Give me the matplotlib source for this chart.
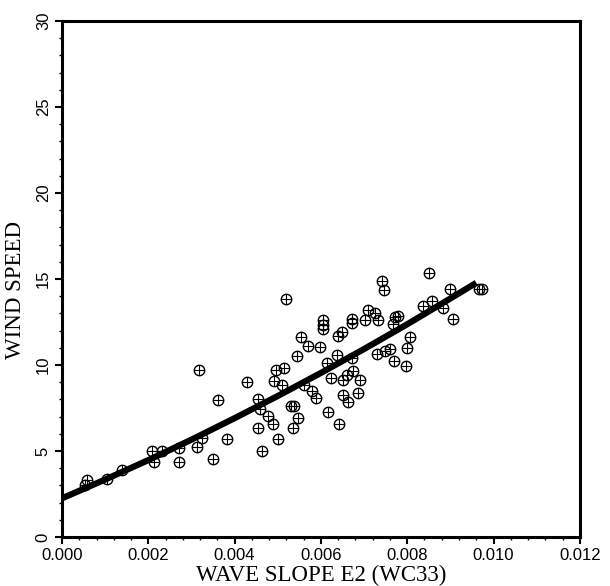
import numpy as np
import matplotlib.pyplot as plt
from matplotlib.ticker import MultipleLocator

# wave slope (E2, WC33) vs wind speed
slope = [0.00053, 0.00058, 0.00104, 0.00139, 0.00208, 0.00213, 0.00232, 0.00271,
         0.00271, 0.00313, 0.00324, 0.00317, 0.00350, 0.00361, 0.00382, 0.00429,
         0.00454, 0.00459, 0.00454, 0.00463, 0.00477, 0.00489, 0.00496, 0.00514,
         0.00491, 0.00510, 0.00500, 0.00519, 0.00530, 0.00537, 0.00547, 0.00535,
         0.00544, 0.00554, 0.00561, 0.00570, 0.00579, 0.00588, 0.00598, 0.00605,
         0.00605, 0.00605, 0.00614, 0.00616, 0.00623, 0.00637, 0.00642, 0.00639,
         0.00649, 0.00651, 0.00660, 0.00674, 0.00672, 0.00651, 0.00663, 0.00686,
         0.00690, 0.00672, 0.00672, 0.00702, 0.00709, 0.00725, 0.00732, 0.00730,
         0.00741, 0.00746, 0.00748, 0.00760, 0.00769, 0.00771, 0.00778, 0.00767,
         0.00806, 0.00799, 0.00797, 0.00836, 0.00857, 0.00850, 0.00883, 0.00899,
         0.00906, 0.00966, 0.00973]
wind = [3.02, 3.32, 3.38, 3.90, 5.00, 4.36, 5.00, 5.18,
        4.36, 5.23, 5.76, 9.71, 4.53, 7.96, 5.70, 9.02,
        8.02, 7.44, 6.33, 5.00, 7.04, 6.57, 9.71, 9.82,
        9.07, 8.84, 5.70, 13.83, 7.61, 7.61, 6.92, 6.33,
        10.52, 11.62, 8.84, 11.10, 8.49, 8.08, 11.05, 12.62,
        12.33, 12.10, 10.12, 7.27, 9.24, 10.58, 6.57, 11.69,
        11.92, 9.13, 9.41, 9.65, 10.41, 8.26, 7.85, 8.37,
        9.13, 12.68, 12.44, 12.62, 13.20, 13.03, 12.62, 10.64,
        14.89, 14.36, 10.82, 10.93, 10.23, 12.79, 12.85, 12.38,
        11.62, 10.99, 9.95, 13.44, 13.72, 15.35, 13.31, 14.42,
        12.68, 14.42, 14.42]

# fitted curve, read at a few points along the thick line
fit_slope = [0.0, 0.001, 0.002, 0.003, 0.004, 0.005, 0.006, 0.007, 0.008, 0.009, 0.0096]
fit_wind = [2.25, 3.34, 4.47, 5.66, 6.91, 8.20, 9.54, 10.93, 12.37, 13.87, 14.78]

xticks = [0.0, 0.002, 0.004, 0.006, 0.008, 0.010, 0.012]
yticks = [0, 5, 10, 15, 20, 25, 30]

fig = plt.figure(figsize=(6.1, 5.86), dpi=100)
ax = fig.add_axes([0.1016, 0.0836, 0.849, 0.8805])

ax.plot(fit_slope, fit_wind, color='black', lw=4.5, solid_capstyle='butt', zorder=2)
ax.plot(slope, wind, 'o', mfc='none', mec='black', ms=7.5, mew=1.0, zorder=3)
ax.plot(slope, wind, '+', color='black', ms=7.5, mew=0.8, zorder=3)

ax.set_xlim(0, 0.012)
ax.set_ylim(0, 30)
ax.set_xticks(xticks)
ax.set_xticklabels(['%.3f' % v for v in xticks])
ax.set_yticks(yticks)
ax.set_yticklabels([str(v) for v in yticks])
ax.xaxis.set_minor_locator(MultipleLocator(0.0004))
ax.yaxis.set_minor_locator(MultipleLocator(1))

for s in ax.spines.values():
    s.set_linewidth(2.2)

ax.tick_params(which='major', length=5, width=1.5, labelsize=12, pad=3)
ax.tick_params(which='minor', length=2.5, width=1.0)
ax.tick_params(axis='y', labelrotation=90)
for lab in ax.get_xticklabels() + ax.get_yticklabels():
    lab.set_family('Liberation Sans')
for lab in ax.get_yticklabels():
    lab.set_va('center')

ax.set_xlabel('WAVE SLOPE E2 (WC33)', family='Liberation Serif', fontsize=16.5, va='baseline')
ax.xaxis.set_label_coords(0.5, -0.0853)
ax.set_ylabel('WIND SPEED', family='Liberation Serif', fontsize=16.5, va='center')
ax.yaxis.set_label_coords(-0.0907, 0.479)

fig.savefig('out.png', dpi=100)
